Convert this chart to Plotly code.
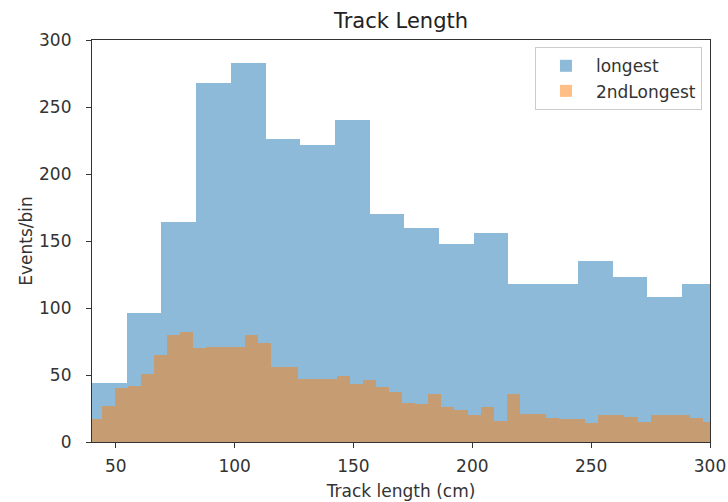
import plotly.graph_objects as go

# ---- data ----
longest_start = 40.0
longest_width = 14.6
longest_counts = [44, 96, 164, 268, 283, 226, 222, 240, 170, 160, 148, 156,
                  118, 118, 135, 123, 108, 118]

second_start = 38.5
second_width = 5.5
second_counts = [17, 27, 40, 42, 51, 65, 80, 82, 70, 71, 71, 71, 80, 74, 56, 56,
                 47, 47, 47, 49, 43, 46, 41, 37, 29, 28, 36, 26, 24, 20, 26, 16,
                 36, 21, 21, 18, 17, 17, 14, 20, 20, 19, 15, 20, 20, 20, 18, 15]

x_ticks = [50, 100, 150, 200, 250, 300]
y_ticks = [0, 50, 100, 150, 200, 250, 300]

series_names = ["longest", "2ndLongest"]
colors = ["#1f77b4", "#ff7f0e"]


def centers(start, width, n):
    return [start + width * (i + 0.5) for i in range(n)]


fig = go.Figure()
fig.add_trace(go.Bar(
    x=centers(longest_start, longest_width, len(longest_counts)),
    y=longest_counts, width=longest_width, name=series_names[0],
    marker=dict(color=colors[0], line=dict(width=0)), opacity=0.5,
))
fig.add_trace(go.Bar(
    x=centers(second_start, second_width, len(second_counts)),
    y=second_counts, width=second_width, name=series_names[1],
    marker=dict(color=colors[1], line=dict(width=0)), opacity=0.5,
))

axis_common = dict(
    showgrid=False, zeroline=False, showline=True, linecolor="#333333",
    linewidth=1.2, mirror=True, ticks="outside", ticklen=5, tickwidth=1,
    tickcolor="#333333", tickfont=dict(size=17, color="#333333"),
    automargin=False,
)

L, R, T, B = 92, 18, 40, 60
W, H = 728, 502

fig.update_layout(
    template="none",
    width=W, height=H,
    margin=dict(l=L, r=R, t=T, b=B, pad=0),
    paper_bgcolor="white", plot_bgcolor="white",
    font=dict(family="DejaVu Sans", color="#333333"),
    barmode="overlay", bargap=0,
    title=dict(text="Track Length", x=(L + (W - R)) / 2 / W, xanchor="center",
               y=1 - 21 / H, yanchor="middle", automargin=False,
               font=dict(size=21, color="#222222")),
    xaxis=dict(range=[40, 300], tickvals=x_ticks, ticklabelstandoff=3,
               title=dict(text="Track length (cm)", font=dict(size=17, color="#333333"),
                          standoff=10),
               **axis_common),
    yaxis=dict(range=[0, 300], tickvals=y_ticks, ticklabelstandoff=11,
               title=dict(text="Events/bin", font=dict(size=17, color="#333333"),
                          standoff=2),
               **axis_common),
    legend=dict(x=0.987, y=0.982, xanchor="right", yanchor="top",
                bgcolor="rgba(255,255,255,0.8)", bordercolor="#cccccc", borderwidth=1,
                font=dict(size=17, color="#333333"), itemwidth=50,
                tracegroupgap=4),
    showlegend=True,
)

fig.write_html("out.html", config={"displayModeBar": False},
               post_script="document.body.style.margin='0';")
